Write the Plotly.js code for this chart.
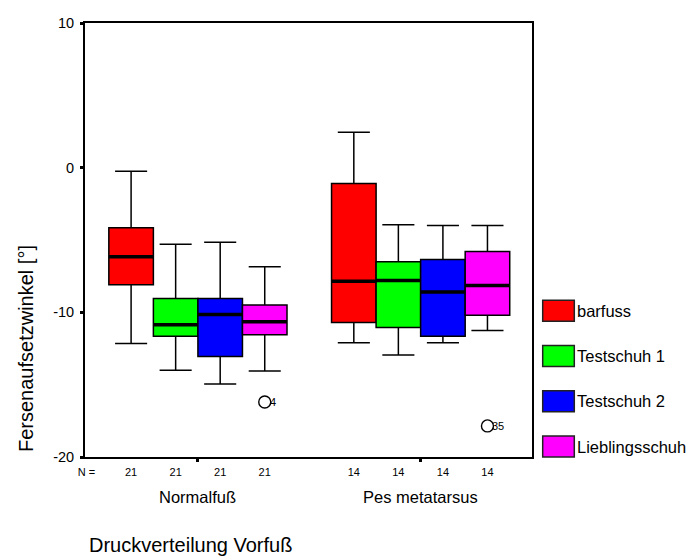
<!DOCTYPE html>
<html>
<head>
<meta charset="utf-8">
<script src="https://cdn.plot.ly/plotly-3.0.1.min.js"></script>
<style>
  html, body { margin: 0; padding: 0; background: #fff; }
  #chart { width: 687px; height: 559px; }
</style>
</head>
<body>
<div id="chart"></div>
<script>
// Heel strike angle by forefoot pressure distribution and footwear
const groups = ['Normalfuß', 'Pes metatarsus'];
const groupCounts = [21, 14];
const series = ['barfuss', 'Testschuh 1', 'Testschuh 2', 'Lieblingsschuh'];
const seriesColors = ['#ff0000', '#00ff00', '#0000ff', '#ff00ff'];

// Box statistics per series, one value per group [Normalfuß, Pes metatarsus]
const lowerWhisker = [[-12.15, -12.1], [-14.0, -12.95], [-14.95, -12.1], [-14.05, -11.25]];
const quartile1    = [[-8.1, -10.7],  [-11.65, -11.05], [-13.05, -11.65], [-11.55, -10.2]];
const medians      = [[-6.15, -7.85], [-10.85, -7.8],  [-10.15, -8.6],  [-10.65, -8.15]];
const quartile3    = [[-4.15, -1.1],  [-9.05, -6.5],   [-9.05, -6.35],  [-9.5, -5.8]];
const upperWhisker = [[-0.25, 2.45],  [-5.3, -3.95],   [-5.15, -4.0],   [-6.85, -4.0]];

// Outliers: series index, group index, value, case label
const outlierSeries = [3, 3];
const outlierGroup = [0, 1];
const outlierValue = [-16.2, -17.85];
const outlierLabel = ['4', '35'];

const yTicks = [-20, -10, 0, 10];
const yTickText = ['-20', '-10', '0', '10'];

const FONT = 'Liberation Sans, Arial, sans-serif';
const W = 687, H = 559;
const M = { l: 85, r: 155, t: 23, b: 102 };
const plotW = W - M.l - M.r, plotH = H - M.t - M.b;
const pxX = px => (px - M.l) / plotW;
const pxY = py => (H - M.b - py) / plotH;

const boxGap = 0.2;
const slot = (1 - boxGap) / series.length;
const slotOffset = i => (i - (series.length - 1) / 2) * slot;
const groupPos = groups.map((g, k) => k);
const xRange = [-0.507, 1.5];

const traces = [];
series.forEach((name, i) => {
  traces.push({
    type: 'box', name: name, x: groupPos, offsetgroup: String(i),
    q1: quartile1[i], median: medians[i], q3: quartile3[i],
    lowerfence: lowerWhisker[i], upperfence: upperWhisker[i],
    fillcolor: seriesColors[i], line: { color: '#000', width: 1.5 },
    whiskerwidth: 0.72, boxpoints: false, hoverinfo: 'skip', showlegend: false
  });
});
// Heavy median bars on top of each box
series.forEach((name, i) => {
  traces.push({
    type: 'box', name: name + ' median', x: groupPos, offsetgroup: String(i),
    q1: medians[i], median: medians[i], q3: medians[i],
    lowerfence: medians[i], upperfence: medians[i],
    fillcolor: 'rgba(0,0,0,0)', line: { color: '#000', width: 3.5 },
    whiskerwidth: 0, boxpoints: false, hoverinfo: 'skip', showlegend: false
  });
});
traces.push({
  type: 'scatter', mode: 'markers', xaxis: 'x2', yaxis: 'y',
  x: outlierGroup.map((g, k) => groupPos[g] + slotOffset(outlierSeries[k])),
  y: outlierValue,
  marker: { symbol: 'circle-open', size: 12, color: '#000', line: { width: 1.4, color: '#000' } },
  cliponaxis: false, hoverinfo: 'skip', showlegend: false
});

// Count row: "N =" at the left edge, then one count under every box
const nTickVals = [-0.5];
const nTickText = ['N ='];
groupPos.forEach((p, k) => series.forEach((s, i) => {
  nTickVals.push(p + slotOffset(i));
  nTickText.push(String(groupCounts[k]));
}));

const annotations = [
  { text: 'Fersenaufsetzwinkel [°]', textangle: -90, xref: 'paper', yref: 'paper',
    x: pxX(26), y: pxY(349), xanchor: 'center', yanchor: 'middle', showarrow: false,
    font: { family: FONT, size: 20, color: '#000' } },
  { text: 'Druckverteilung Vorfuß', xref: 'paper', yref: 'paper',
    x: pxX(87), y: pxY(545), xanchor: 'left', yanchor: 'middle', showarrow: false,
    font: { family: FONT, size: 20, color: '#000' } }
];
groups.forEach((g, k) => annotations.push({
  text: g, xref: 'x', yref: 'paper', x: groupPos[k], y: pxY(497),
  xanchor: 'center', yanchor: 'middle', showarrow: false,
  font: { family: FONT, size: 16.5, color: '#000' }
}));
// Case numbers beside the outliers
outlierGroup.forEach((g, k) => annotations.push({
  text: outlierLabel[k], xref: 'x2', yref: 'y',
  x: groupPos[g] + slotOffset(outlierSeries[k]), y: outlierValue[k],
  xanchor: 'left', yanchor: 'middle', xshift: 3, showarrow: false,
  font: { family: FONT, size: 11, color: '#000' }
}));

// Legend keys drawn as large swatches
const shapes = [];
const legTop = 310.7, legStep = 45.3;
series.forEach((name, i) => {
  const cy = legTop + i * legStep;
  shapes.push({ type: 'rect', xref: 'paper', yref: 'paper',
    x0: pxX(542.7), x1: pxX(574.3), y0: pxY(cy + 10.5), y1: pxY(cy - 10.5),
    fillcolor: seriesColors[i], line: { color: '#222', width: 1.5 } });
  annotations.push({ text: name, xref: 'paper', yref: 'paper',
    x: pxX(575), y: pxY(cy), xanchor: 'left', yanchor: 'middle', showarrow: false,
    font: { family: FONT, size: 16.5, color: '#000' } });
});

const layout = {
  width: W, height: H, margin: M,
  paper_bgcolor: '#fff', plot_bgcolor: '#fff',
  font: { family: FONT, color: '#000' },
  boxmode: 'group', boxgap: boxGap, boxgroupgap: 0,
  showlegend: false,
  xaxis: {
    range: xRange, tickvals: groupPos, showticklabels: false,
    ticks: 'outside', ticklen: 3, tickwidth: 3, tickcolor: '#000',
    showline: true, linewidth: 2, linecolor: '#000', mirror: true,
    showgrid: false, zeroline: false, fixedrange: true
  },
  xaxis2: {
    overlaying: 'x', anchor: 'y', side: 'bottom', range: xRange,
    tickvals: nTickVals, ticktext: nTickText, ticks: '', ticklabelstandoff: 7,
    tickfont: { family: FONT, size: 11, color: '#000' },
    showline: false, showgrid: false, zeroline: false, fixedrange: true
  },
  yaxis: {
    range: [-20, 10], tickvals: yTicks, ticktext: yTickText,
    ticks: 'outside', ticklen: 3, tickwidth: 3, tickcolor: '#000', ticklabelstandoff: 3,
    tickfont: { family: FONT, size: 14.5, color: '#000' },
    showline: true, linewidth: 2, linecolor: '#000', mirror: true,
    showgrid: false, zeroline: false, fixedrange: true
  },
  annotations: annotations,
  shapes: shapes
};

Plotly.newPlot('chart', traces, layout, { displayModeBar: false, staticPlot: true });
</script>
</body>
</html>
